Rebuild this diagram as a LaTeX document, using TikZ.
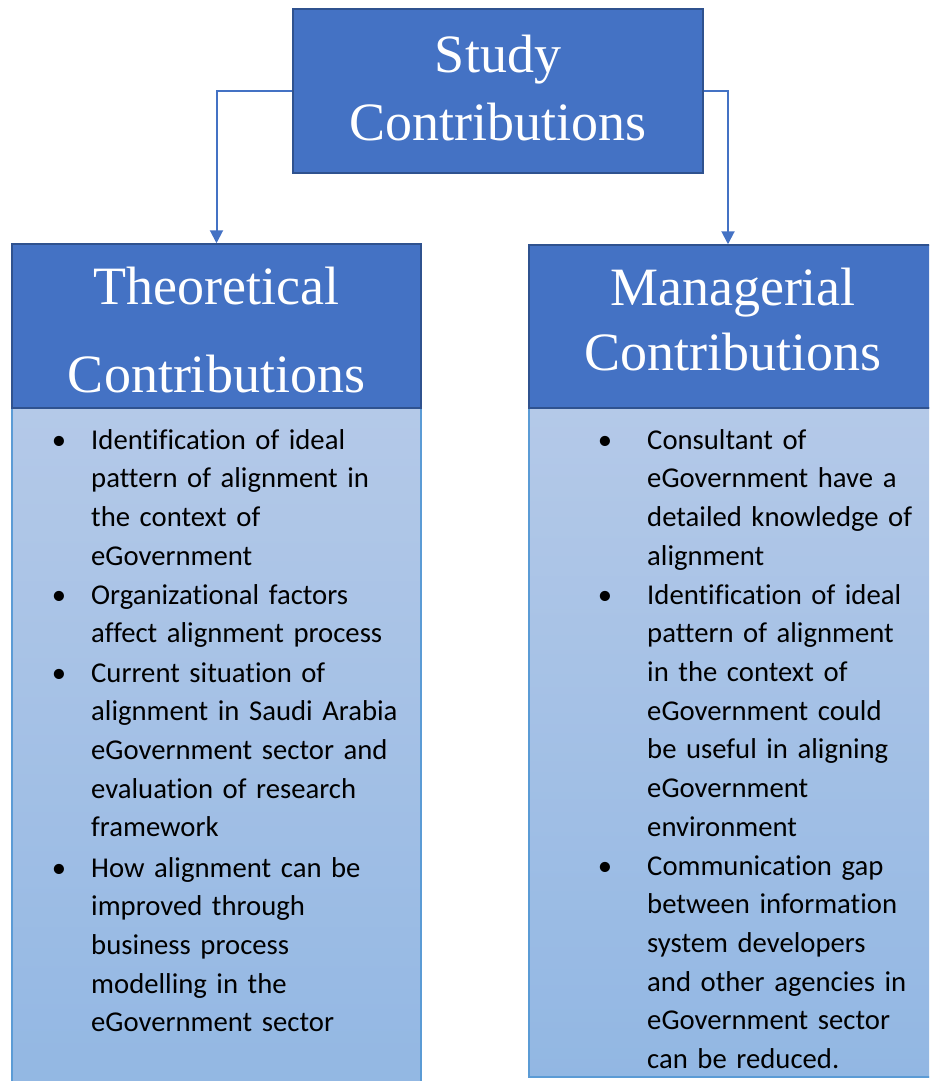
\documentclass[tikz,border=0pt]{standalone}
\usepackage{fontspec}
\setmainfont{Liberation Serif}
\newfontfamily\bodyfont{Carlito}[Ligatures={NoCommon}]
\usetikzlibrary{arrows.meta}
\definecolor{hdr}{HTML}{4472C4}
\definecolor{hdrline}{HTML}{2F528F}
\definecolor{bodytop}{HTML}{B4C9E8}
\definecolor{bodybot}{HTML}{92B7E3}
\definecolor{bodyline}{HTML}{5B9BD5}
\definecolor{conncol}{HTML}{4472C4}
\tikzset{
  hdrbox/.style={draw=hdrline, line width=1.5pt, fill=hdr, inner sep=0pt},
  bodybox/.style={draw=bodyline, line width=1.2pt, top color=bodytop, bottom color=bodybot, inner sep=0pt},
  titletext/.style={text=white, align=center, inner sep=0pt, text width=400pt, anchor=base},
  itemtxt/.style={font=\bodyfont\fontsize{28.7}{38.7}\selectfont, align=left, text width=#1, inner sep=0pt, anchor=base west},
  bulletmark/.style={font=\bodyfont\fontsize{28.7}{38.7}\selectfont, inner sep=0pt, anchor=base},
  conn/.style={draw=conncol, line width=2pt, -{Triangle[length=13pt,width=13pt]}}
}
\begin{document}
\begin{tikzpicture}[x=1pt,y=-1pt]
\useasboundingbox (0,0) rectangle (929,1081);
\clip (0,0) rectangle (929,1081);

% bodies
\node[bodybox, minimum width=409pt, minimum height=692pt] (thb) at (216.5,754) {};
\node[bodybox, minimum width=408pt, minimum height=669pt] (mnb) at (733,742.5) {};

% headers
\node[hdrbox, minimum width=410pt, minimum height=164pt] (top) at (498,91) {};
\node[hdrbox, minimum width=409pt, minimum height=164pt] (thh) at (216.5,326) {};
\node[hdrbox, minimum width=408pt, minimum height=163pt] (mnh) at (733,326.5) {};

% titles
\node[titletext, font=\fontsize{54}{68}\selectfont] (topT) at (498,72) {Study\\Contributions};
\node[titletext, font=\fontsize{54}{88}\selectfont] (thT) at (216.5,304) {Theoretical\\Contributions};
\node[titletext, font=\fontsize{54}{65}\selectfont] (mnT) at (733,305) {Managerial\\Contributions};

% connectors
\draw[conn] (top.west) -| (thh.north);
\draw[conn] (top.east) -| ([xshift=-5pt]mnh.north);

% left items
\node[bulletmark] (lb1) at (59,449) {•};
\node[itemtxt=360pt] (l1) at (91,449) {Identification of ideal\\pattern of alignment in\\the context of\\eGovernment};
\node[bulletmark] (lb2) at (59,604) {•};
\node[itemtxt=360pt] (l2) at (91,604) {Organizational factors\\affect alignment process};
\node[bulletmark] (lb3) at (59,682) {•};
\node[itemtxt=360pt] (l3) at (91,682) {Current situation of\\alignment in Saudi Arabia\\eGovernment sector and\\evaluation of research\\framework};
\node[bulletmark] (lb4) at (59,877) {•};
\node[itemtxt=360pt] (l4) at (91,877) {How alignment can be\\improved through\\business process\\modelling in the\\eGovernment sector};

% right items
\node[bulletmark] (rb1) at (605,449) {•};
\node[itemtxt=300pt] (r1) at (647,449) {Consultant of\\eGovernment have a\\detailed knowledge of\\alignment};
\node[bulletmark] (rb2) at (605,604) {•};
\node[itemtxt=300pt] (r2) at (647,604) {Identification of ideal\\pattern of alignment\\in the context of\\eGovernment could\\be useful in aligning\\eGovernment\\environment};
\node[bulletmark] (rb3) at (605,875) {•};
\node[itemtxt=300pt] (r3) at (647,875) {Communication gap\\between information\\system developers\\and other agencies in\\eGovernment sector\\can be reduced.};
\end{tikzpicture}
\end{document}
